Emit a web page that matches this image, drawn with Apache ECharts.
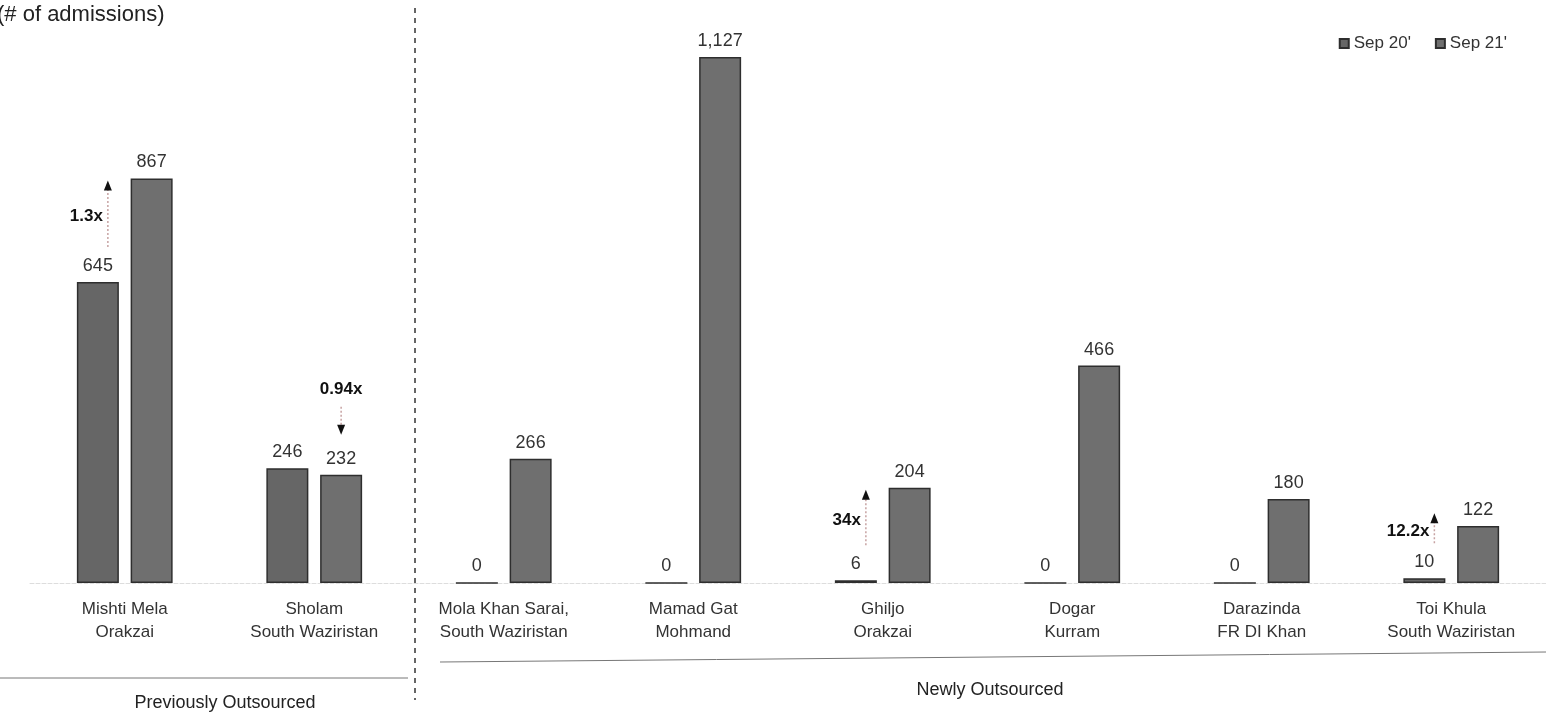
<!DOCTYPE html>
<html><head><meta charset="utf-8">
<script src="https://cdn.jsdelivr.net/npm/echarts@6/dist/echarts.min.js"></script>
<style>html,body{margin:0;padding:0;background:#fff;}#c{width:1546px;height:717px;}</style>
</head><body><div id="c"></div>
<script>
const categories = ["Mishti Mela\nOrakzai","Sholam\nSouth Waziristan","Mola Khan Sarai,\nSouth Waziristan","Mamad Gat\nMohmand","Ghiljo\nOrakzai","Dogar\nKurram","Darazinda\nFR DI Khan","Toi Khula\nSouth Waziristan"];
const sep20 = [645, 246, 0, 0, 6, 0, 0, 10];
const sep21 = [867, 232, 266, 1127, 204, 466, 180, 122];
const seriesNames = ["Sep 20'", "Sep 21'"];
// growth annotations: [categoryIndex, text, direction]
const growth = [[0, "1.3x", "up"], [1, "0.94x", "down"], [4, "34x", "up"], [7, "12.2x", "up"]];

const FONT = "Liberation Sans, Arial, sans-serif";
const BAR_W = 42, GAP_PCT = 28;
const chart = echarts.init(document.getElementById('c'));
const lbl = {show:true, position:'top', distance:7, color:'#333', fontSize:18, fontFamily:FONT,
  formatter: p => p.value.toLocaleString('en-US')};
chart.setOption({
  animation:false,
  textStyle:{fontFamily:FONT},
  legend:{right:34, top:30, icon:'rect', itemWidth:9, itemHeight:9, itemGap:24, textStyle:{fontSize:17, color:'#333'},
    data:seriesNames},
  grid:{left:30, width:1523, top:23, bottom:134},
  xAxis:{type:'category', data:categories, axisTick:{show:false},
    axisLine:{show:true, lineStyle:{color:'#ddd', type:'dashed'}},
    axisLabel:{fontSize:17, color:'#333', lineHeight:23, margin:15, interval:0}},
  yAxis:{type:'value', min:0, max:1200, show:false, splitLine:{show:false}},
  series:[
    {name:seriesNames[0], type:'bar', data:sep20, barWidth:BAR_W, barGap:GAP_PCT+'%',
     itemStyle:{color:'#666666', borderColor:'#2e2e2e', borderWidth:1.5}, label:lbl},
    {name:seriesNames[1], type:'bar', data:sep21, barWidth:BAR_W,
     itemStyle:{color:'#6f6f6f', borderColor:'#2e2e2e', borderWidth:1.5}, label:lbl}
  ]
});

function addGraphics(){
  const els = [];
  const half = (BAR_W + BAR_W*GAP_PCT/100) / 2; // offset from category centre to each bar centre
  els.push({type:'text', left:-3, top:4, style:{text:'(# of admissions)', fontSize:22, fill:'#222', fontFamily:FONT}});
  els.push({type:'line', shape:{x1:415, y1:8, x2:415, y2:700}, style:{stroke:'#333', lineWidth:1.5, lineDash:[5,5]}});
  els.push({type:'line', shape:{x1:0, y1:678, x2:408, y2:678}, style:{stroke:'#777', lineWidth:1}});
  els.push({type:'line', shape:{x1:440, y1:662, x2:1546, y2:652}, style:{stroke:'#777', lineWidth:1}});
  els.push({type:'text', x:225, y:703, style:{text:'Previously Outsourced', fontSize:18, fill:'#222', align:'center', verticalAlign:'middle', fontFamily:FONT}});
  els.push({type:'text', x:990, y:690, style:{text:'Newly Outsourced', fontSize:18, fill:'#222', align:'center', verticalAlign:'middle', fontFamily:FONT}});
  growth.forEach(([i, txt, dir]) => {
    const a = chart.convertToPixel({seriesIndex:0}, [i, sep20[i]]);
    const b = chart.convertToPixel({seriesIndex:1}, [i, sep21[i]]);
    let x, yFrom, yTip;
    if (dir === 'up') {
      x = a[0] - half + 10; yFrom = a[1] - 35; yTip = Math.min(b[1] + 2, yFrom - 30);
    } else {
      x = b[0] + half; yFrom = b[1] - 68; yTip = b[1] - 40;
    }
    const s = dir === 'up' ? 1 : -1;
    els.push({type:'line', z:100, shape:{x1:x, y1:yFrom, x2:x, y2:yTip + s*8}, style:{stroke:'#c7a3a3', lineWidth:1.5, lineDash:[2,2]}});
    els.push({type:'polygon', z:100, shape:{points:[[x, yTip],[x-4, yTip+s*10],[x+4, yTip+s*10]]}, style:{fill:'#111'}});
    if (dir === 'up') {
      els.push({type:'text', z:100, x:x-5, y:(yFrom+yTip)/2 + 3, style:{text:txt, fontSize:17, fontWeight:'bold', fill:'#111', align:'right', verticalAlign:'middle', fontFamily:FONT}});
    } else {
      els.push({type:'text', z:100, x:x, y:yFrom - 17, style:{text:txt, fontSize:17, fontWeight:'bold', fill:'#111', align:'center', verticalAlign:'middle', fontFamily:FONT}});
    }
  });
  chart.setOption({graphic:els});
}
addGraphics();
</script></body></html>
